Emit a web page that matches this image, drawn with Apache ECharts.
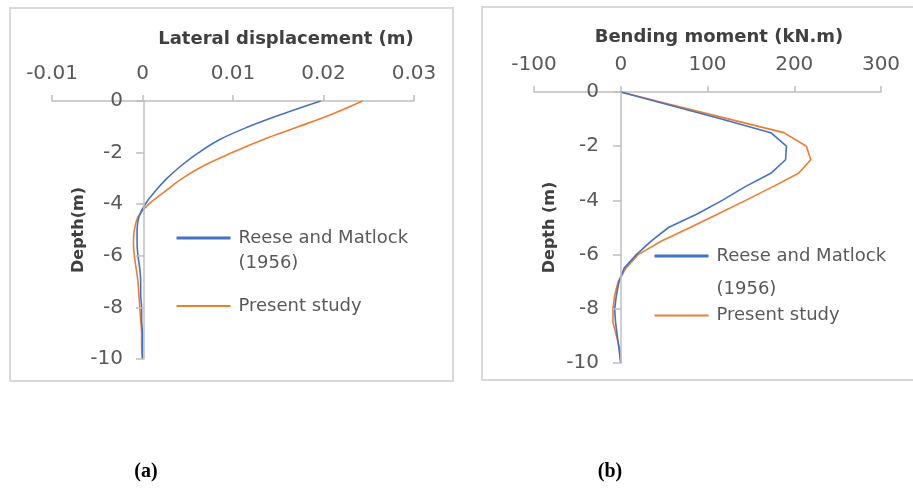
<!DOCTYPE html>
<html>
<head>
<meta charset="utf-8">
<script src="https://cdn.jsdelivr.net/npm/echarts@6/dist/echarts.min.js"></script>
<style>
html,body{margin:0;padding:0;background:#fff;}
#c{width:913px;height:491px;}
</style>
</head>
<body>
<div id="c"></div>
<script>
// ---- data ----
var depth = [0,-0.5,-1,-1.5,-2,-2.5,-3,-3.5,-4,-4.5,-5,-5.5,-6,-6.5,-7,-7.5,-8,-8.5,-9,-9.5,-10];
var dispReese   = [0.0197,0.0155,0.0117,0.0085,0.0062,0.0043,0.0027,0.0014,0.0003,-0.0004,-0.0006,-0.0006,-0.0005,-0.0003,-0.0002,-0.0002,-0.0001,-0.0001,0,0,0];
var dispPresent = [0.0243,0.0210,0.0172,0.0133,0.0099,0.0068,0.0044,0.0025,0.0007,-0.0005,-0.0009,-0.0010,-0.0009,-0.0007,-0.0005,-0.0004,-0.0003,-0.0002,-0.0001,-0.0001,0];
var momentReese   = [0,58,116,173,191,190,173,143,117,88,55,35,18,4,-2,-5,-7,-6,-4,-2,0];
var momentPresent = [0,62,125,188,214,219,205,175,144,112,80,47,20,6,-3,-7,-9,-9,-5,-1,0];
var seriesNames = ['Reese and Matlock (1956)', 'Present study'];
var dispTicks = [-0.01, 0, 0.01, 0.02, 0.03];
var momentTicks = [-100, 0, 100, 200, 300];
var depthTicks = [0, -2, -4, -6, -8, -10];

function pairs(xs, ys){ return ys.map(function(y,i){ return [xs[i], y]; }); }

var FONT = 'DejaVu Sans';
var GRAY = '#595959';
var AXIS = '#bfbfbf';
var BLUE = '#4472C4';
var ORANGE = '#ED7D31';

function xAxisCfg(gi, ticks){
  return {
    type:'value', gridIndex:gi, position:'top',
    min:ticks[0], max:ticks[ticks.length-1], interval:ticks[1]-ticks[0],
    axisLine:{show:true, onZero:false, lineStyle:{color:AXIS, width:1.5}},
    axisTick:{show:true, length:6, lineStyle:{color:AXIS, width:1.5}},
    splitLine:{show:false},
    axisLabel:{fontFamily:FONT, fontSize:20, color:GRAY, margin:17,
      formatter:function(v){ return String(Math.round(v*1e6)/1e6); }},
    z:1
  };
}
function yAxisCfg(gi, name, gap, off, margin){
  return {
    type:'value', gridIndex:gi, position:'left', offset:off,
    min:depthTicks[depthTicks.length-1], max:depthTicks[0], interval:2,
    name:name, nameLocation:'middle', nameRotate:90, nameGap:gap,
    nameTextStyle:{fontFamily:FONT, fontSize:16, fontWeight:'bold', color:'#404040'},
    axisLine:{show:true, onZero:false, lineStyle:{color:AXIS, width:1.5}},
    axisTick:{show:true, length:8, lineStyle:{color:AXIS, width:1.5}},
    splitLine:{show:false},
    axisLabel:{fontFamily:FONT, fontSize:20, color:GRAY, margin:margin},
    z:5
  };
}

function legendCfg(left, top, L1, L2, gap){
  return {
    orient:'vertical', left:left, top:top, padding:0, itemWidth:54, itemHeight:14, itemGap:gap,
    selectedMode:false,
    itemStyle:{color:'rgba(0,0,0,0)', borderWidth:0, opacity:0},
    textStyle:{fontFamily:FONT, fontSize:18, color:GRAY, lineHeight:L2, padding:[0,0,0,3]},
    formatter:function(n){ return n.indexOf(' (') > 0 ? ' \n' + n.replace(' (', '\n(') : n; },
    data:[
      {name:seriesNames[0], lineStyle:{width:3}, textStyle:{lineHeight:L1}},
      {name:seriesNames[1], lineStyle:{width:2}}
    ]
  };
}

var chart = echarts.init(document.getElementById('c'), null, {renderer:'canvas'});
var option = {
  animation:false,
  backgroundColor:'#fff',
  title:[
    {text:'Lateral displacement (m)', left:286, top:30, textAlign:'center', padding:0,
     textStyle:{fontFamily:FONT, fontSize:18, fontWeight:'bold', color:'#404040'}},
    {text:'Bending moment (kN.m)', left:719, top:28, textAlign:'center', padding:0,
     textStyle:{fontFamily:FONT, fontSize:18, fontWeight:'bold', color:'#404040'}}
  ],
  grid:[
    {left:52, top:101, width:362, height:258, containLabel:false, outerBoundsMode:'none'},
    {left:534, top:92, width:347, height:271, containLabel:false, outerBoundsMode:'none'}
  ],
  xAxis:[ xAxisCfg(0, dispTicks), xAxisCfg(1, momentTicks) ],
  yAxis:[ yAxisCfg(0, 'Depth(m)', 55, -92, 21), yAxisCfg(1, 'Depth (m)', 63, -87, 22) ],
  legend:[ legendCfg(175, 200.5, 25, 25, 18), legendCfg(653, 206.5, 33, 20, 0) ],
  graphic:[
    {type:'rect', shape:{x:10, y:8, width:443, height:373}, style:{fill:'none', stroke:'#d9d9d9', lineWidth:2}, z:-1},
    {type:'rect', shape:{x:482, y:7, width:450, height:373}, style:{fill:'none', stroke:'#d9d9d9', lineWidth:2}, z:-1},
    {type:'text', x:146, y:472, style:{text:'(a)', font:'bold 20px "Liberation Serif"', fill:'#000', textAlign:'center', textVerticalAlign:'middle'}},
    {type:'text', x:610, y:472, style:{text:'(b)', font:'bold 20px "Liberation Serif"', fill:'#000', textAlign:'center', textVerticalAlign:'middle'}}
  ],
  series:[
    {name:seriesNames[0], type:'line', xAxisIndex:0, yAxisIndex:0, data:pairs(dispReese, depth),
     smooth:0.4, symbol:'none', lineStyle:{color:BLUE, width:1.6}, itemStyle:{color:BLUE}, z:3},
    {name:seriesNames[1], type:'line', xAxisIndex:0, yAxisIndex:0, data:pairs(dispPresent, depth),
     smooth:0.4, symbol:'none', lineStyle:{color:ORANGE, width:1.6}, itemStyle:{color:ORANGE}, z:2},
    {name:seriesNames[0], type:'line', xAxisIndex:1, yAxisIndex:1, data:pairs(momentReese, depth),
     smooth:false, symbol:'none', lineStyle:{color:BLUE, width:1.6}, itemStyle:{color:BLUE}, z:3},
    {name:seriesNames[1], type:'line', xAxisIndex:1, yAxisIndex:1, data:pairs(momentPresent, depth),
     smooth:false, symbol:'none', lineStyle:{color:ORANGE, width:1.6}, itemStyle:{color:ORANGE}, z:2}
  ]
};
chart.setOption(option);
</script>
</body>
</html>
